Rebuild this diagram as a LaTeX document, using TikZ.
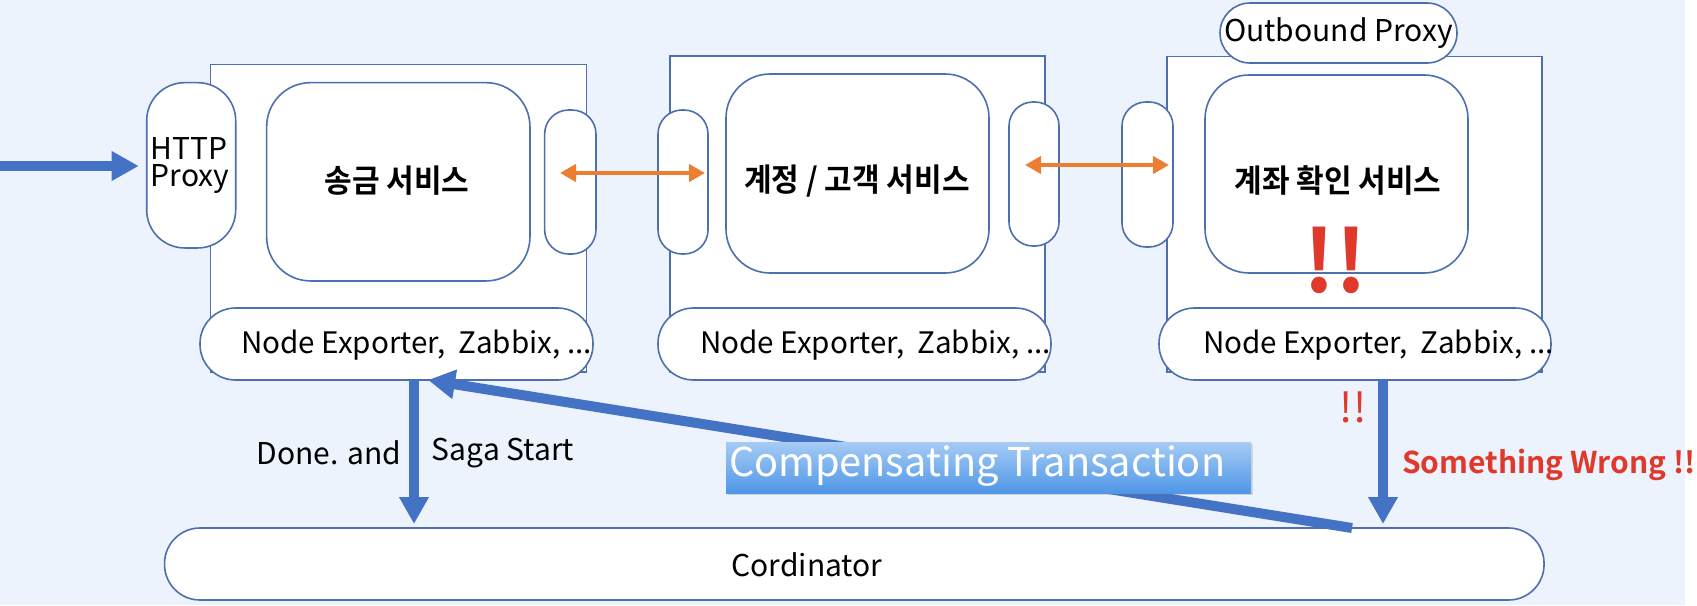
\documentclass[tikz,border=0pt]{standalone}
\usepackage{fontspec}
\setmainfont{Noto Sans CJK KR}[BoldFont={Noto Sans CJK KR Bold}]
\usetikzlibrary{arrows.meta,shadows}
\definecolor{bgc}{HTML}{EDF3FD}
\definecolor{edgec}{HTML}{4D6FAE}
\definecolor{arrc}{HTML}{4472C4}
\definecolor{orc}{HTML}{ED7D31}
\definecolor{redc}{HTML}{E0382B}
\definecolor{gtop}{HTML}{A6CBF5}
\definecolor{gbot}{HTML}{4F97E6}
\newcommand\myfs[1]{\fontsize{#1}{#1}\selectfont}
\begin{document}
\begin{tikzpicture}[x=1pt,y=-1pt,
  every node/.style={inner sep=0pt,outer sep=0pt},
  outerbox/.style={draw=edgec,fill=white,line width=1.6pt},
  innerbox/.style={draw=edgec,fill=white,line width=1.6pt,rounded corners=44pt},
  pillbox/.style={draw=edgec,fill=white,line width=1.6pt,rounded corners=24pt},
  capsule/.style={draw=edgec,fill=white,line width=1.6pt,rounded corners=35.5pt},
  lbl/.style={font=\myfs{30}},
  nelbl/.style={font=\myfs{29.6},anchor=west},
  korlbl/.style={font=\myfs{30}\bfseries},
  bigarrow/.style={draw=arrc,line width=10pt,-{Triangle[length=27pt,width=28pt]}},
  orarrow/.style={draw=orc,line width=4pt,{Triangle[length=16pt,width=17pt]}-{Triangle[length=16pt,width=17pt]}}
]
\useasboundingbox (0,0) rectangle (1697,605);
\fill[white] (0,0) rectangle (1697,605);
\fill[bgc] (0,0) rectangle (1685,605);

% outer service boxes
\node[outerbox,minimum width=375.8pt,minimum height=307.7pt] (o1) at (398.4,218.2) {};
\node[outerbox,minimum width=375pt,minimum height=316pt] (o2) at (857.5,214) {};
\node[outerbox,minimum width=375pt,minimum height=315.3pt] (o3) at (1354.5,214.3) {};

% inner service boxes
\node[innerbox,minimum width=263.3pt,minimum height=198.3pt] (i1) at (398.3,181.8) {};
\node[innerbox,minimum width=263pt,minimum height=199pt] (i2) at (857.5,173.5) {};
\node[innerbox,minimum width=263pt,minimum height=198pt] (i3) at (1336.5,174) {};

% proxies
\node[pillbox,rounded corners=38pt,minimum width=89pt,minimum height=165.3pt] (http) at (191.2,165.3) {};
\node[lbl,align=left] (httpt) at (190,166) {HTTP\\[-3pt]Proxy};
\node[pillbox,minimum width=51.3pt,minimum height=144pt] (r1) at (570.3,182) {};
\node[pillbox,minimum width=50pt,minimum height=144pt] (l2) at (683,182) {};
\node[pillbox,minimum width=50pt,minimum height=144pt] (r2) at (1034,174) {};
\node[pillbox,minimum width=51pt,minimum height=145pt] (l3) at (1147.5,174.5) {};
\node[pillbox,rounded corners=30pt,minimum width=237pt,minimum height=60pt] (ob) at (1338.5,33) {};
\node[lbl] (obt) at (1338.5,33) {Outbound Proxy};

% monitoring capsules
\node[capsule,minimum width=393pt,minimum height=72pt] (ne1) at (396.5,344) {};
\node[capsule,minimum width=393pt,minimum height=72pt] (ne2) at (854.5,344) {};
\node[capsule,minimum width=392pt,minimum height=72pt] (ne3) at (1355,344) {};
\node[nelbl] (ne1t) at (241,345) {Node Exporter,\ \ Zabbix, ...};
\node[nelbl] (ne2t) at (700,345) {Node Exporter,\ \ Zabbix, ...};
\node[nelbl] (ne3t) at (1203,345) {Node Exporter,\ \ Zabbix, ...};

% coordinator
\node[capsule,minimum width=1379.5pt,minimum height=72pt] (coord) at (854.3,564) {};
\node[lbl] (coordt) at (807,565) {Cordinator};

% service titles
\node[korlbl] (s1) at (397,181) {\scalebox{1}[1.06]{송금 서비스}};
\node[korlbl] (s2) at (857,181) {\scalebox{1}[1.06]{계정 / 고객 서비스}};
\node[korlbl] (s3) at (1338,180) {\scalebox{1}[1.06]{계좌 확인 서비스}};

% arrows
\coordinate (inS) at (0,166);
\draw[bigarrow,shorten >=8pt] (inS) -- (http.west |- inS);

\coordinate (oa1) at (560,173);
\coordinate (ob1) at (705,173);
\draw[orarrow] (oa1) -- (ob1);
\coordinate (oa2) at (1025,165);
\coordinate (ob2) at (1169,165);
\draw[orarrow] (oa2) -- (ob2);

\coordinate (d1) at (414,0);
\draw[bigarrow,shorten >=4pt] (ne1.south -| d1) -- (coord.north -| d1);
\coordinate (d2) at (1383,0);
\draw[bigarrow,shorten >=4pt] (ne3.south -| d2) -- (coord.north -| d2);

\coordinate (cs) at (1352,528);
\coordinate (ce) at (428,380);
\draw[bigarrow] (cs) -- (ce);

% labels
\node[lbl] (done) at (329,453) {Done. and};
\node[lbl] (saga) at (503,453) {Saga Start};
\node[minimum width=525pt,minimum height=51pt,top color=gtop,bottom color=gbot,
  drop shadow={opacity=0.25,shadow xshift=1.5pt,shadow yshift=-1.5pt}] (comp) at (988.5,467.5) {};
\node[font=\myfs{39.7},text=white,anchor=west] (compt) at (729,466) {Compensating Transaction};

\node[font=\myfs{41},text=redc] (ex1) at (1353,407) {!!};
\node[font=\myfs{30}\bfseries,text=redc,anchor=west] (sw) at (1402,465) {Something Wrong !!};
\node[font=\myfs{86}\bfseries,text=redc] (ex2) at (1335,260) {!!};
\end{tikzpicture}
\end{document}
